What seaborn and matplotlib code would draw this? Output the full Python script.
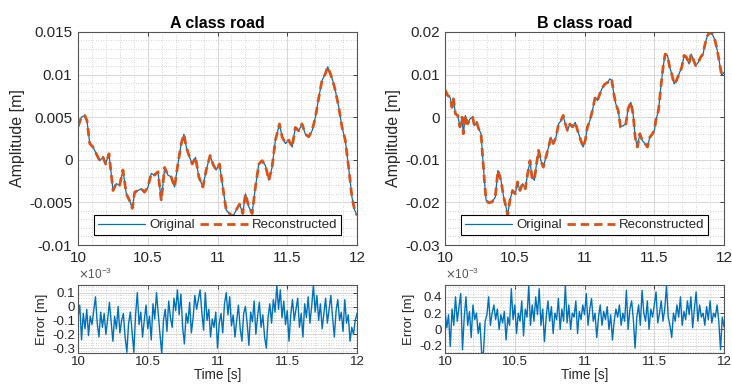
import numpy as np
import seaborn as sns
import matplotlib.pyplot as plt
from matplotlib.ticker import MultipleLocator, FormatStrFormatter

# road profile A, time [s] and amplitude [mm]
t_a = [10.000, 10.024, 10.048, 10.064, 10.084, 10.107, 10.131, 10.155, 10.179, 10.198,
       10.222, 10.251, 10.274, 10.298, 10.322, 10.346, 10.370, 10.389, 10.406, 10.430,
       10.453, 10.477, 10.501, 10.525, 10.549, 10.573, 10.597, 10.621, 10.644, 10.668,
       10.692, 10.716, 10.740, 10.759, 10.776, 10.800, 10.819, 10.842, 10.866, 10.895,
       10.919, 10.947, 10.967, 10.990, 11.014, 11.038, 11.062, 11.086, 11.110, 11.134,
       11.158, 11.181, 11.200, 11.224, 11.248, 11.272, 11.296, 11.320, 11.344, 11.368,
       11.391, 11.415, 11.444, 11.463, 11.487, 11.511, 11.535, 11.558, 11.582, 11.606,
       11.630, 11.654, 11.678, 11.702, 11.726, 11.749, 11.773, 11.790, 11.809, 11.826,
       11.845, 11.869, 11.893, 11.916, 11.940, 11.964, 11.983, 12.000]
road_a = [3.9, 5.0, 5.2, 4.6, 1.9, 1.5, 0.7, -0.1, 0.3, -0.5,
          0.7, -3.6, -2.8, -3.0, -1.2, -4.0, -4.8, -5.7, -3.8, -3.6,
          -3.4, -3.8, -3.2, -1.6, -1.8, -1.4, -4.8, -0.9, -1.8, -2.0,
          -3.2, -0.5, 1.9, 3.0, 1.5, 0.3, -0.5, 0.3, -2.0, -3.2,
          -1.2, 0.5, -0.5, -1.2, -0.5, -3.2, -5.9, -6.3, -6.7, -5.9,
          -5.2, -6.3, -4.0, -5.5, -6.3, -3.2, -0.5, -0.1, -0.7, -2.4,
          -0.9, 2.3, 4.2, 2.7, 1.9, 2.3, 1.5, 3.8, 3.4, 4.2,
          3.0, 2.7, 3.4, 5.0, 7.3, 9.3, 10.1, 10.9, 10.1, 9.3,
          8.1, 6.2, 3.8, 2.3, -0.9, -4.4, -5.9, -6.5]

# road profile B, time [s] and amplitude [mm]
t_b = [10.000, 10.019, 10.036, 10.050, 10.060, 10.074, 10.091, 10.107, 10.122, 10.131,
       10.146, 10.162, 10.179, 10.198, 10.210, 10.227, 10.241, 10.258, 10.270, 10.282,
       10.294, 10.313, 10.337, 10.360, 10.379, 10.401, 10.418, 10.437, 10.449, 10.465,
       10.484, 10.504, 10.520, 10.537, 10.556, 10.575, 10.592, 10.609, 10.623, 10.640,
       10.656, 10.671, 10.687, 10.704, 10.723, 10.742, 10.759, 10.776, 10.795, 10.814,
       10.831, 10.847, 10.862, 10.878, 10.895, 10.914, 10.933, 10.950, 10.974, 10.990,
       11.005, 11.021, 11.038, 11.057, 11.076, 11.093, 11.110, 11.129, 11.148, 11.167,
       11.181, 11.196, 11.210, 11.224, 11.241, 11.258, 11.277, 11.296, 11.313, 11.332,
       11.348, 11.363, 11.379, 11.396, 11.415, 11.434, 11.451, 11.468, 11.487, 11.501,
       11.511, 11.530, 11.547, 11.563, 11.578, 11.594, 11.611, 11.625, 11.642, 11.659,
       11.678, 11.697, 11.714, 11.730, 11.749, 11.764, 11.778, 11.797, 11.816, 11.833,
       11.850, 11.864, 11.881, 11.897, 11.916, 11.936, 11.952, 11.969, 11.983, 12.000]
road_b = [6.4, 5.1, 4.7, 2.3, 4.3, 0.8, 0.4, -2.3, 0.0, -3.9,
          0.4, -1.6, -0.4, 0.0, -2.0, -1.2, -2.7, -3.9, -9.4, -14.8,
          -19.5, -20.1, -19.9, -18.8, -12.5, -14.8, -18.4, -21.1, -23.0, -19.5,
          -17.2, -18.0, -15.2, -17.2, -15.6, -16.8, -13.3, -10.2, -14.1, -14.8,
          -10.9, -7.8, -10.2, -11.7, -9.4, -7.0, -4.7, -6.2, -4.7, -1.6,
          -0.8, 0.4, -1.6, -3.1, -1.6, -2.3, -1.2, -3.1, -5.5, -7.0,
          -5.5, -2.3, -0.8, 1.6, 4.7, 3.9, 5.5, 7.0, 7.8, 8.2,
          9.0, 8.6, 5.5, 3.1, 1.6, -2.3, -2.0, -1.6, 2.0, 3.5,
          0.8, -4.7, -7.0, -3.9, -5.5, -6.2, -7.0, -4.7, -3.9, -3.1,
          -0.8, 1.6, 7.0, 11.7, 14.8, 14.5, 11.7, 10.2, 7.8, 8.6,
          10.2, 11.7, 14.5, 14.1, 12.5, 14.8, 13.7, 12.1, 12.9, 14.1,
          14.8, 17.2, 19.1, 19.9, 19.5, 18.0, 15.6, 12.5, 9.8, 10.5]

# reconstruction error, x 1e-3 m, sampled evenly over 10..12 s
err_a = [-0.08, 0.01, -0.24, -0.05, -0.16, -0.02, -0.21, -0.07, -0.13, -0.03,
         0.07, -0.12, -0.22, -0.04, -0.15, -0.05, -0.2, -0.09, 0.03, -0.11,
         -0.25, -0.07, -0.16, 0.0, -0.19, -0.1, -0.05, -0.22, -0.33, -0.12,
         -0.04, -0.18, -0.33, -0.06, 0.1, -0.13, -0.04, -0.22, -0.1, 0.01,
         -0.16, -0.07, -0.24, 0.02, -0.09, 0.1, -0.05, -0.2, -0.34, -0.1,
         -0.02, -0.18, 0.04, -0.08, -0.15, 0.06, -0.03, 0.12, -0.06, 0.09,
         -0.15, -0.27, -0.05, -0.12, 0.03, -0.19, -0.08, 0.08, -0.02, 0.05,
         0.12, -0.04, -0.17, 0.1, -0.1, -0.02, -0.22, -0.09, -0.15, -0.04,
         -0.3, -0.12, -0.05, -0.19, 0.02, 0.1, -0.06, 0.07, -0.14, -0.06,
         -0.22, -0.1, 0.01, -0.16, -0.25, -0.05, 0.0, -0.12, -0.28, -0.04,
         -0.11, 0.04, -0.2, -0.07, 0.03, -0.15, -0.06, -0.22, -0.3, -0.08,
         0.02, -0.12, 0.05, -0.04, 0.155, -0.02, 0.12, -0.08, 0.04, -0.13,
         -0.03, -0.25, -0.06, 0.05, -0.1, -0.02, 0.06, -0.15, -0.05, -0.22,
         0.02, -0.08, 0.07, -0.12, 0.0, 0.155, -0.04, 0.08, -0.1, 0.02,
         -0.16, -0.05, 0.06, -0.12, -0.02, 0.08, -0.08, -0.22, -0.03, 0.05,
         -0.1, -0.04, -0.18, 0.05, -0.12, -0.06, -0.25, -0.15, -0.2, -0.1, -0.05]
err_b = [0.22, 0.02, 0.18, -0.21, 0.25, 0.05, 0.4, 0.1, 0.28, 0.44,
         -0.25, 0.15, 0.4, 0.05, 0.22, -0.1, 0.3, 0.12, 0.2, -0.05,
         0.08, -0.29, -0.29, 0.1, 0.18, 0.4, 0.05, 0.2, 0.3, 0.12,
         0.25, 0.0, 0.18, 0.08, 0.22, -0.13, 0.15, 0.05, 0.5, 0.12,
         0.3, -0.05, 0.2, 0.1, 0.35, -0.08, 0.25, 0.15, 0.54, 0.05,
         0.3, 0.1, 0.4, 0.18, 0.5, 0.05, 0.25, -0.15, 0.15, 0.35,
         0.1, 0.28, -0.05, 0.2, 0.12, 0.38, 0.0, 0.25, 0.1, 0.54,
         0.08, 0.3, 0.0, 0.2, 0.15, 0.35, -0.05, 0.22, 0.12, 0.3,
         0.18, 0.44, 0.05, 0.25, 0.38, 0.1, 0.2, -0.1, 0.15, 0.3,
         0.05, 0.22, 0.12, 0.28, 0.0, 0.18, -0.13, 0.1, 0.25, 0.15,
         0.3, 0.05, 0.2, 0.1, 0.48, 0.0, 0.25, 0.35, 0.12, -0.23,
         0.15, 0.3, 0.05, 0.48, 0.2, 0.1, 0.35, 0.0, 0.25, 0.15,
         0.3, 0.46, 0.08, 0.2, 0.35, 0.1, 0.25, 0.54, 0.15, 0.05,
         -0.1, 0.2, 0.1, 0.3, 0.15, 0.4, 0.05, 0.22, 0.12, 0.35,
         0.18, 0.4, 0.02, 0.25, 0.46, 0.1, 0.3, 0.15, 0.2, 0.05,
         0.28, 0.12, 0.35, 0.08, 0.2, 0.15, 0.3, 0.1, -0.25, 0.15, 0.03]

titles = ['A class road', 'B class road']

sns.set_theme(style='white')
plt.rcParams['font.family'] = ['Liberation Sans', 'DejaVu Sans']
plt.rcParams['axes.unicode_minus'] = False

BLUE = '#0072BD'
ORANGE = '#D95319'
GRAY = '#262626'

fig = plt.figure(figsize=(7.32, 3.85), dpi=100)


def style_axes(ax, fs, pad=4):
    ax.set_xlim(10, 12)
    ax.xaxis.set_major_locator(MultipleLocator(0.5))
    ax.xaxis.set_minor_locator(MultipleLocator(0.1))
    ax.xaxis.set_major_formatter(FormatStrFormatter('%g'))
    ax.yaxis.set_major_formatter(FormatStrFormatter('%g'))
    ax.grid(True, which='major', color='#d6d6d6', lw=0.7, ls='-')
    ax.grid(True, which='minor', color='#c8c8c8', lw=0.6, ls=(0, (1, 2)))
    ax.set_axisbelow(True)
    ax.tick_params(which='major', direction='in', length=3, width=0.6, colors=GRAY,
                   labelsize=fs, top=True, right=True, pad=pad)
    ax.tick_params(which='minor', length=0)
    for s in ax.spines.values():
        s.set_color('#555555')
        s.set_linewidth(0.8)


# main road panels
for i, (tt, yy, ylim, ymaj, ymin) in enumerate([
        (t_a, road_a, (-0.01, 0.015), 0.005, 0.001),
        (t_b, road_b, (-0.03, 0.02), 0.01, 0.002)]):
    left = [0.1066, 0.608][i]
    ax = fig.add_axes([left, 0.3636, 0.3811, 0.5534])
    y_m = np.array(yy) / 1000
    sns.lineplot(x=tt, y=y_m, ax=ax, color=BLUE, lw=0.9, label='Original',
                 estimator=None, sort=False)
    sns.lineplot(x=tt, y=y_m, ax=ax, color=ORANGE, lw=2.0, label='Reconstructed',
                 estimator=None, sort=False)
    ax.lines[-1].set_dashes([3, 1.8])
    style_axes(ax, 11)
    ax.set_ylim(*ylim)
    ax.yaxis.set_major_locator(MultipleLocator(ymaj))
    ax.yaxis.set_minor_locator(MultipleLocator(ymin))
    ax.set_title(titles[i], fontsize=11.5, fontweight='bold', color='black', pad=3)
    ax.set_ylabel('Amplitude [m]', fontsize=11.5, color=GRAY, labelpad=3)
    ax.set_xlabel('')
    leg = ax.legend(loc='lower center', bbox_to_anchor=(0.5, 0.045), ncol=2,
                    fontsize=9.5, frameon=True, fancybox=False, framealpha=1,
                    edgecolor='black', handlelength=3.6, columnspacing=0.4,
                    handletextpad=0.3, borderpad=0.3, borderaxespad=0)
    leg.get_frame().set_linewidth(0.8)

# error panels
for i, (ee, ylim, ymaj, ymin) in enumerate([
        (err_a, (-0.335, 0.155), 0.1, 0.02),
        (err_b, (-0.29, 0.545), 0.2, 0.04)]):
    left = [0.1066, 0.608][i]
    ax = fig.add_axes([left, 0.0831, 0.3811, 0.1766])
    tt = np.linspace(10, 12, len(ee))
    sns.lineplot(x=tt, y=ee, ax=ax, color=BLUE, lw=1.0, estimator=None, sort=False)
    style_axes(ax, 9.5, pad=2)
    ax.set_ylim(*ylim)
    ax.yaxis.set_major_locator(MultipleLocator(ymaj))
    ax.yaxis.set_minor_locator(MultipleLocator(ymin))
    ax.set_ylabel('Error [m]', fontsize=9.5, color=GRAY, labelpad=3)
    ax.set_xlabel('Time [s]', fontsize=9.75, color=GRAY, labelpad=0.5)
    ax.text(0.0, 1.04, r'$\times\mathregular{10^{-3}}$', transform=ax.transAxes,
            fontsize=8.5, color='#555555', ha='left', va='bottom')

fig.savefig('out.png', dpi=100)
